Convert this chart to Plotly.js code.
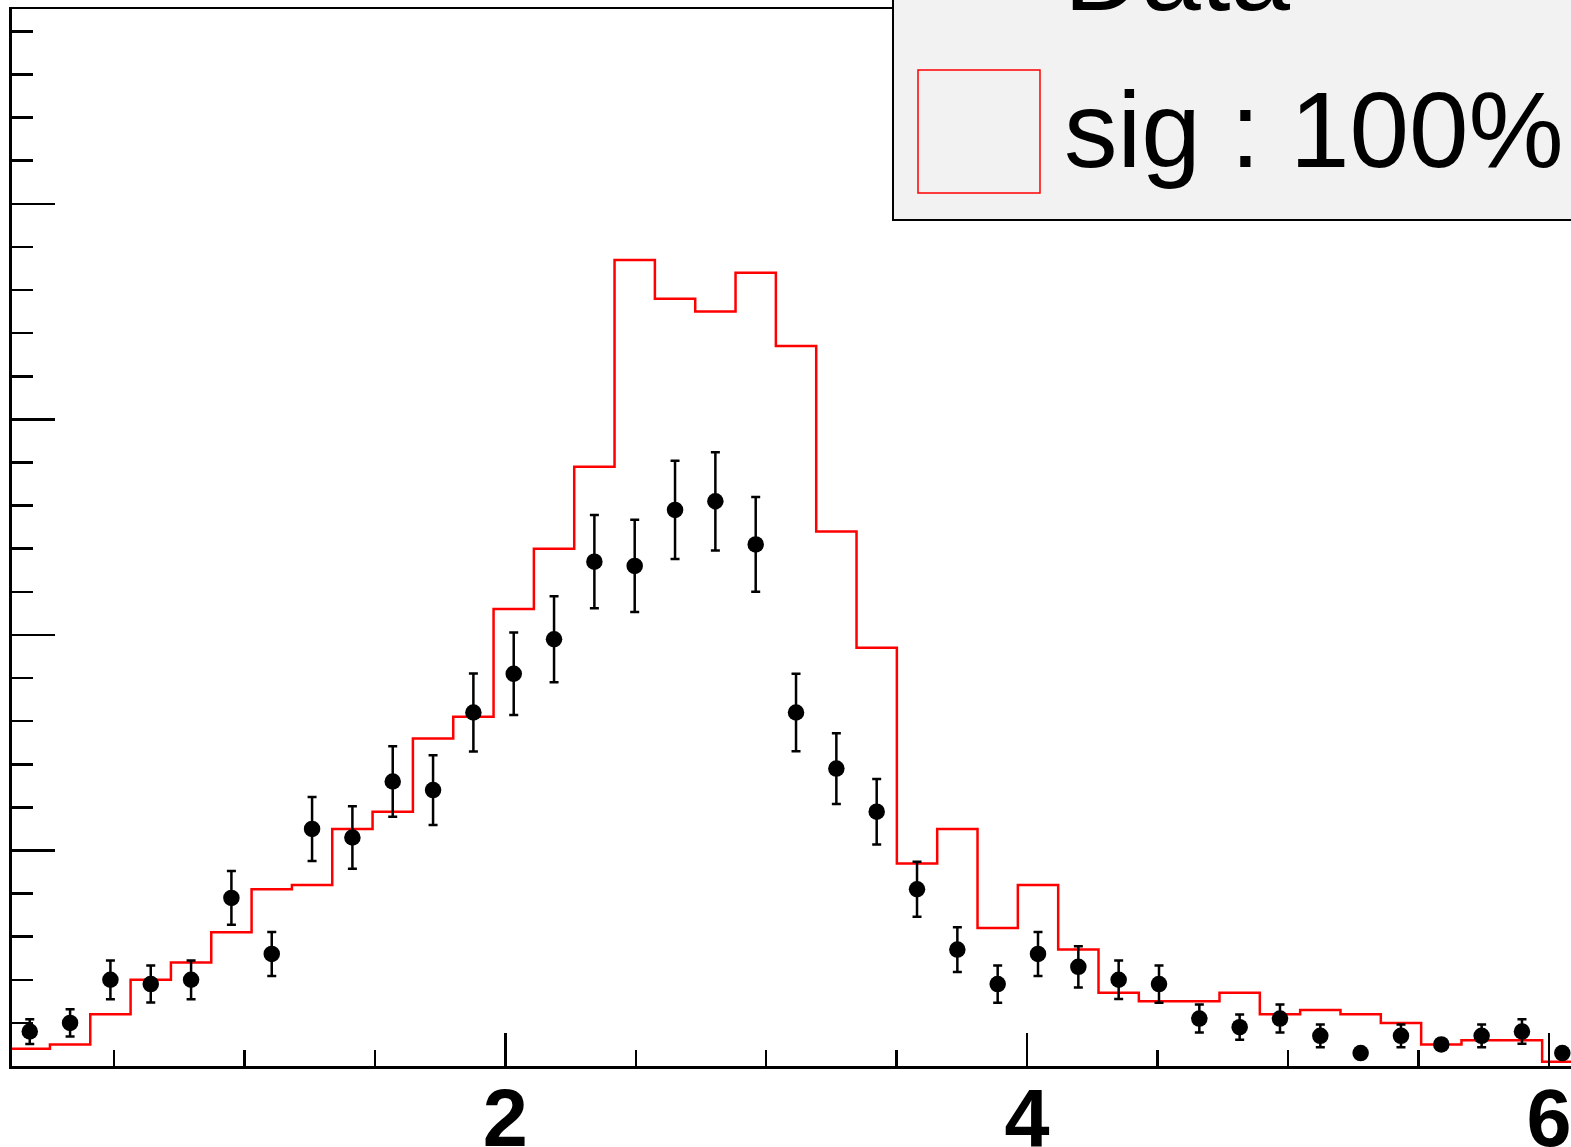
<!DOCTYPE html>
<html><head><meta charset="utf-8">
<script src="https://cdn.plot.ly/plotly-3.0.1.min.js"></script>
<style>
html,body{margin:0;padding:0;width:1571px;height:1147px;overflow:hidden;background:#ffffff;}
#chart{position:absolute;left:-200px;top:-300px;width:1927px;height:1516px;}
</style></head><body><div id="chart"></div>
<script>
// Binning (40 bins from 0.1 to 2*pi; 39 are visible in the crop)
const binLow = 0.1;
const binWidth = 0.15458;

// Data (points with Poisson error bars)
const dataCounts = [8,10,20,19,20,39,26,55,53,66,64,82,91,99,117,116,129,131,121,82,69,59,41,27,19,26,23,20,19,11,9,11,7,3,7,5,7,8,3];
const dataErrors = [2.87,3.17,4.49,4.29,4.49,6.26,5.1,7.42,7.23,8.2,8.07,9.05,9.59,10.0,10.8,10.7,11.4,11.4,11.0,9.0,8.2,7.6,6.4,5.2,4.3,5.1,4.8,4.45,4.3,3.25,2.93,3.25,2.63,0,2.63,0,2.63,2.85,0];

// Signal histogram "sig : 100%"
const sigCounts = [4,5,12,20,24,31,41,42,55,59,76,81,106,120,139,187,178,175,184,167,124,97,47,55,32,42,27,17,15,15,17,12,13,12,10,5,6,6,1];

// Tick labels
const xTickVals = [2,4,6];
const xTickText = ['2','4','6'];
const yTickVals = [0,50,100,150,200];
const yTickText = ['0','50','100','150','200'];

// Legend texts
const legendData = 'Data';
const legendSig = 'sig : 100%';

const centers = dataCounts.map((_, i) => binLow + (i + 0.5) * binWidth);
const edgesX = sigCounts.map((_, i) => binLow + i * binWidth).concat([binLow + sigCounts.length * binWidth]);
const stepY = sigCounts.concat([sigCounts[sigCounts.length - 1]]);

const traces = [
  {
    type: 'scatter', mode: 'lines', x: edgesX, y: stepY,
    line: {shape: 'hv', color: '#ff0000', width: 2.5},
    hoverinfo: 'skip', showlegend: false
  },
  {
    type: 'scatter', mode: 'markers', x: centers, y: dataCounts,
    marker: {symbol: 'circle', size: 16.5, color: '#000000'},
    error_y: {type: 'data', array: dataErrors, visible: true, color: '#000000', thickness: 2.5, width: 4.5},
    showlegend: false
  }
];

const font = 'Liberation Sans, Arial, Helvetica, sans-serif';

const layout = {
  width: 1927, height: 1516,
  margin: {l: 212, r: 100, t: 309, b: 150},
  paper_bgcolor: '#ffffff', plot_bgcolor: '#ffffff',
  showlegend: false,
  xaxis: {
    range: [0.1092, 6.2993],
    showgrid: false, zeroline: false,
    showline: true, linecolor: '#000000', linewidth: 2.5, mirror: true,
    ticks: 'inside', ticklen: 33, tickwidth: 2.5, tickcolor: '#000000',
    tickmode: 'array', tickvals: xTickVals, ticktext: xTickText,
    tickfont: {family: font, size: 81, color: '#000000', weight: 'bold'},
    ticklabelstandoff: -20,
    minor: {ticks: 'inside', ticklen: 16, tickwidth: 2.5, tickcolor: '#000000', dtick: 0.5, tick0: 0, showgrid: false}
  },
  yaxis: {
    range: [0, 245.2],
    showgrid: false, zeroline: false,
    showline: true, linecolor: '#000000', linewidth: 3, mirror: true,
    ticks: 'inside', ticklen: 43, tickwidth: 2.5, tickcolor: '#000000',
    tickmode: 'array', tickvals: yTickVals, ticktext: yTickText,
    tickfont: {family: font, size: 81, color: '#000000', weight: 'bold'},
    ticklabelstandoff: 12,
    minor: {ticks: 'inside', ticklen: 21, tickwidth: 2.5, tickcolor: '#000000', dtick: 10, tick0: 0, showgrid: false}
  },
  shapes: [
    {type: 'rect', xref: 'paper', yref: 'paper', x0: 0.54551, x1: 1.1, y0: 0.80038, y1: 1.245,
     fillcolor: '#f2f2f2', line: {color: '#000000', width: 2}, layer: 'above'},
    {type: 'rect', xref: 'paper', yref: 'paper', x0: 0.56099, x1: 0.63653, y0: 0.82592, y1: 0.94229,
     fillcolor: 'rgba(0,0,0,0)', line: {color: '#ff0000', width: 1.5}, layer: 'above'}
  ],
  annotations: [
    {xref: 'paper', yref: 'paper', x: 0.65015, y: 0.88552, xanchor: 'left', yanchor: 'middle',
     text: legendSig, showarrow: false, font: {family: font, size: 107, color: '#000000'}},
    {xref: 'paper', yref: 'paper', x: 0.65015, y: 1.03406, xanchor: 'left', yanchor: 'middle',
     text: legendData, showarrow: false, font: {family: font, size: 107, color: '#000000'}}
  ]
};

Plotly.newPlot('chart', traces, layout, {staticPlot: true, displayModeBar: false});
</script>
</body></html>
